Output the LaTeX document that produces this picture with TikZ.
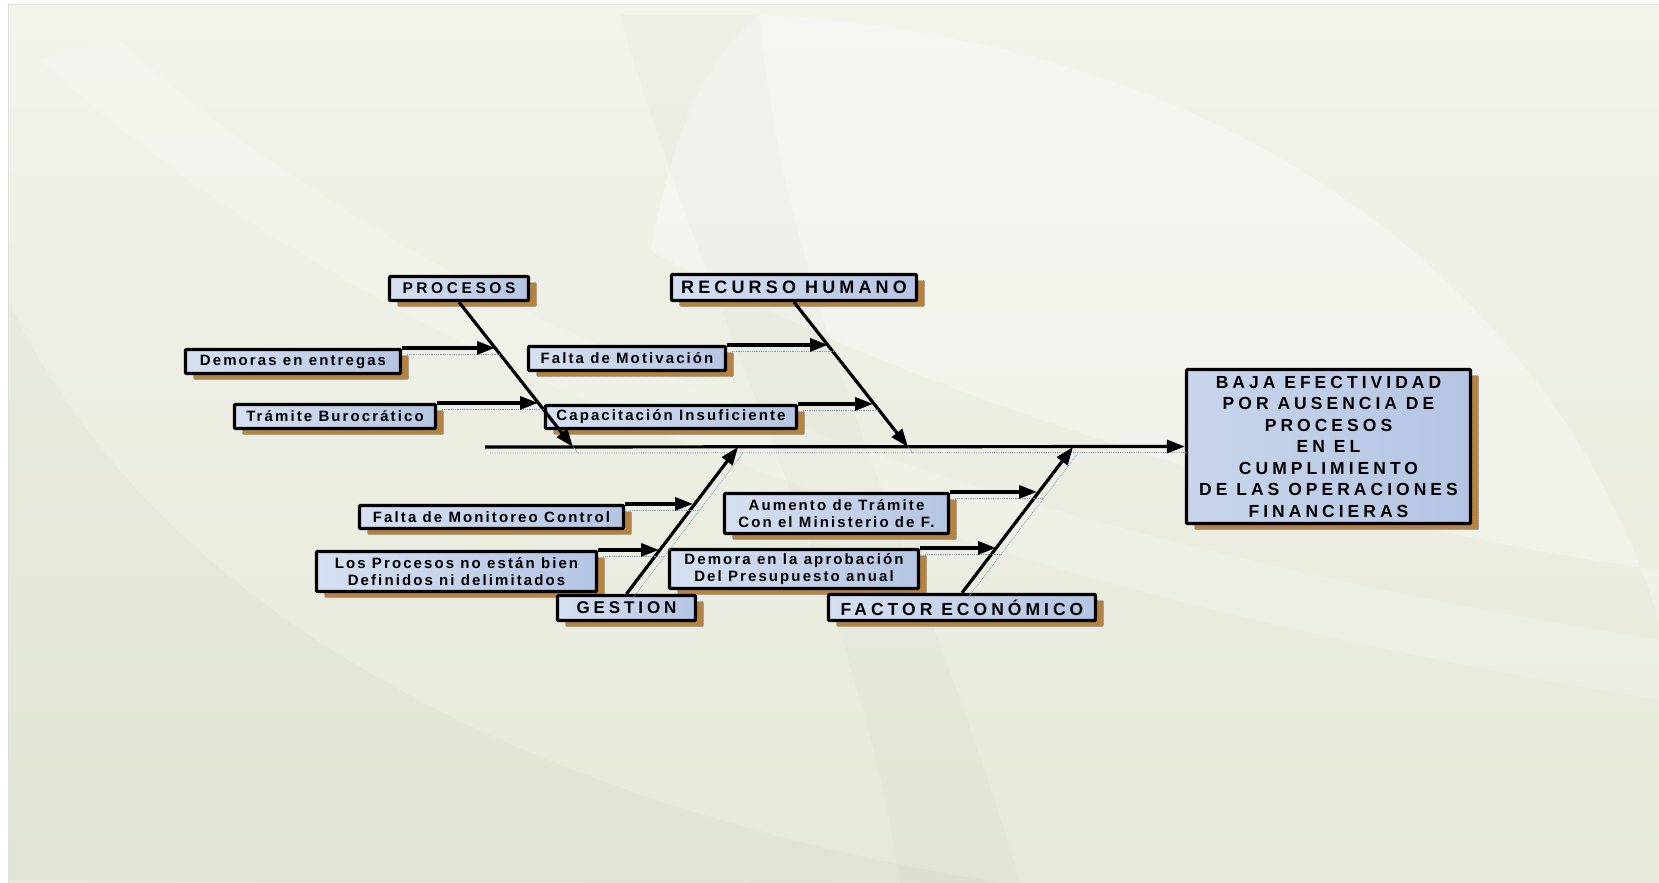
\documentclass[tikz,border=0pt]{standalone}
\usepackage{fontspec}
\setmainfont{Liberation Sans}
\newfontfamily\causefont[LetterSpace=14]{Liberation Sans}
\newfontfamily\catfont[LetterSpace=23]{Liberation Sans}
\usetikzlibrary{arrows.meta,shadows,positioning}
\definecolor{bgtop}{RGB}{242,243,235}
\definecolor{bgbot}{RGB}{229,233,217}
\definecolor{boxlight}{RGB}{214,224,242}
\definecolor{boxdark}{RGB}{180,197,227}
\definecolor{effectlight}{RGB}{200,213,236}
\definecolor{brown1}{RGB}{181,131,62}
\definecolor{dotblue}{RGB}{125,155,205}
\tikzstyle{box} = [draw, line width=3.2pt, rounded corners=1pt, left color=boxlight, right color=boxdark,
    inner sep=0pt, align=center,
    drop shadow={shadow xshift=8pt, shadow yshift=-6pt, fill=brown1, opacity=1,
        draw=dotblue, densely dotted, line width=0.6pt}]
\tikzstyle{cause} = [box, font=\causefont\bfseries\fontsize{15}{17}\selectfont]
\tikzstyle{category} = [box, font=\catfont\bfseries\fontsize{17}{19}\selectfont]
\tikzstyle{effect} = [box, left color=effectlight, right color=boxdark, font=\catfont\bfseries\fontsize{17.5}{21.5}\selectfont]
\tikzstyle{bone} = [line width=3.2pt, -{Triangle[length=18pt,width=13pt]},
    preaction={draw=dotblue, densely dotted, line width=0.8pt, arrows=-,
        transform canvas={shift={(5pt,-6pt)}}}]

\begin{document}
\begin{tikzpicture}[x=1pt, y=-1pt]
    \useasboundingbox (0,0) rectangle (1659,883);

    % background
    \fill[white] (0,0) rectangle (1659,883);
    \shade[top color=bgtop, bottom color=bgbot] (8,5) rectangle (1659,883);
    \fill[white, opacity=0.3] (760,15) .. controls (1250,40) and (1560,300) .. (1659,620)
        -- (1659,570) .. controls (1300,520) and (900,390) .. (650,250)
        .. controls (670,150) and (700,60) .. (760,15);
    \fill[white, opacity=0.18] (40,60) .. controls (300,300) and (800,560) .. (1659,700)
        -- (1659,640) .. controls (900,520) and (400,300) .. (120,40) -- cycle;
    \fill[black, opacity=0.015] (620,15) -- (760,15) .. controls (780,300) and (940,600) .. (1020,883)
        -- (900,883) .. controls (860,600) and (700,300) .. (620,15);
    \fill[black, opacity=0.02] (8,880) -- (8,300) .. controls (150,600) and (500,800) .. (1000,883) -- cycle;
    \draw[gray!25, line width=1pt] (8,883) -- (8,5) -- (1659,5);

    % causes
    \node[cause, minimum width=215pt, minimum height=24pt] (demoras) at (293,361.5) {Demoras en entregas};
    \node[cause, minimum width=201pt, minimum height=24pt] (tramite) at (335,416.5) {Trámite Burocrático};
    \node[cause, minimum width=197pt, minimum height=24pt] (motiv) at (627,358.5) {Falta de Motivación};
    \node[cause, minimum width=251pt, minimum height=23pt] (capac) at (671,417) {Capacitación Insuficiente};
    \node[cause, minimum width=264pt, minimum height=23pt] (monit) at (491.5,517) {Falta de Monitoreo Control};
    \node[cause, minimum width=280pt, minimum height=40pt] (losproc) at (456.5,571.5)
        {Los Procesos no están bien\\Definidos ni delimitados};
    \node[cause, minimum width=224pt, minimum height=40pt] (aumento) at (836.5,513.5)
        {Aumento de Trámite\\Con el Ministerio de F.};
    \node[cause, minimum width=249pt, minimum height=39pt] (demora) at (794,569)
        {Demora en la aprobación\\Del Presupuesto anual};

    % categories
    \node[category, minimum width=139pt, minimum height=24pt, font=\catfont\bfseries\fontsize{15.5}{19}\selectfont]
        (procesos) at (459,288.5) {PROCESOS};
    \node[category, minimum width=245pt, minimum height=26pt, font=\catfont\bfseries\fontsize{18}{19}\selectfont]
        (recurso) at (794,287.5) {RECURSO HUMANO};
    \node[category, minimum width=138pt, minimum height=25pt] (gestion) at (626.5,608) {GESTION};
    \node[category, minimum width=267pt, minimum height=26pt, font=\catfont\bfseries\fontsize{17.5}{19}\selectfont]
        (factor) at (962,607.5) {FACTOR ECONÓMICO};

    % effect
    \node[effect, minimum width=284pt, minimum height=154pt] (efecto) at (1328.5,446.5)
        {BAJA EFECTIVIDAD\\POR AUSENCIA DE\\PROCESOS\\EN EL\\CUMPLIMIENTO\\DE LAS OPERACIONES\\FINANCIERAS};

    % spine points
    \coordinate (tail) at (485,447);
    \coordinate (sp1) at (573,447);
    \coordinate (sp2) at (908,447);
    \coordinate (sp3) at (738,447);
    \coordinate (sp4) at (1073,447);
    % tips on the bones
    \coordinate (t1) at (495,349);
    \coordinate (t2) at (538,405);
    \coordinate (t3) at (828,346);
    \coordinate (t4) at (873,405);
    \coordinate (t5) at (693,505);
    \coordinate (t6) at (659,551);
    \coordinate (t7) at (1037,493);
    \coordinate (t8) at (996,549);

    % spine and bones
    \draw[bone] (tail) -- (efecto.west);
    \draw[bone] (procesos.south) -- (sp1);
    \draw[bone] (recurso.south) -- (sp2);
    \draw[bone] (gestion.north) -- (sp3);
    \draw[bone] (factor.north) -- (sp4);

    % cause arrows
    \draw[bone] (demoras.north east) -- (demoras.north east -| t1);
    \draw[bone] (tramite.north east) -- (tramite.north east -| t2);
    \draw[bone] (motiv.north east) -- (motiv.north east -| t3);
    \draw[bone] (capac.north east) -- (capac.north east -| t4);
    \draw[bone] (monit.north east) -- (monit.north east -| t5);
    \draw[bone] (losproc.north east) -- (losproc.north east -| t6);
    \draw[bone] (aumento.north east) -- (aumento.north east -| t7);
    \draw[bone] (demora.north east) -- (demora.north east -| t8);
\end{tikzpicture}
\end{document}
